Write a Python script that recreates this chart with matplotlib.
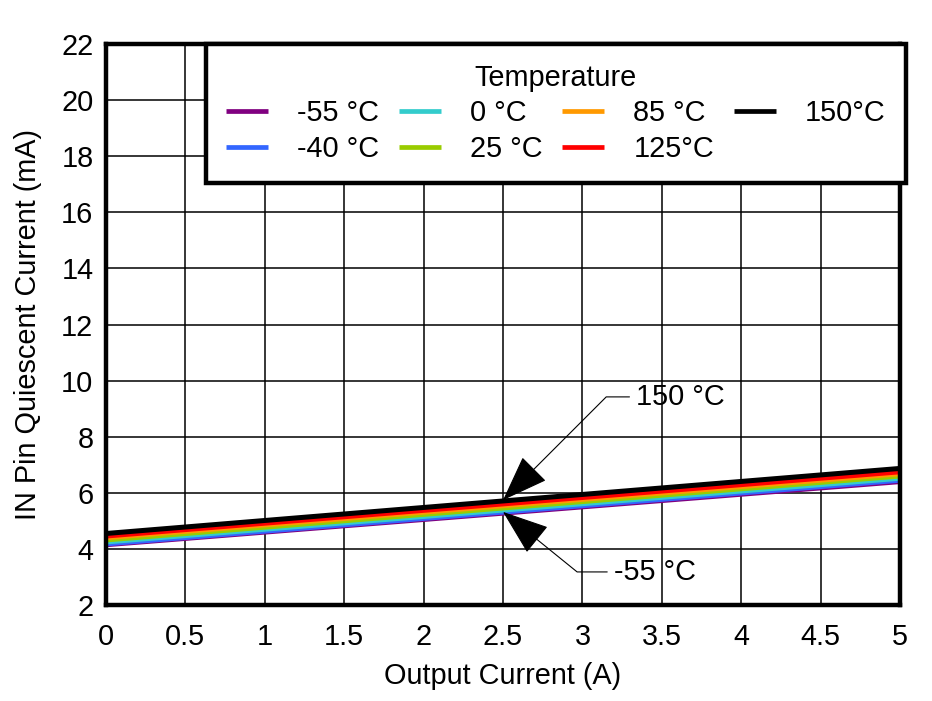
import matplotlib
matplotlib.use("Agg")
import matplotlib.pyplot as plt

# Data
output_current = [0, 5]
temps = ['-55 °C', '-40 °C', '0 °C', '25 °C', '85 °C', '125°C', '150°C']
colors = ['#800080', '#3366FF', '#33CCCC', '#99CC00', '#FF9900', '#FF0000', '#000000']
iq_start = [4.15, 4.18, 4.25, 4.32, 4.40, 4.46, 4.55]
iq_end = [6.40, 6.45, 6.52, 6.60, 6.68, 6.75, 6.87]

plt.rcParams['font.family'] = ['Liberation Sans', 'DejaVu Sans']
FS = 20.8

fig = plt.figure(figsize=(9.32, 7.01), dpi=100)
ax = fig.add_axes([0.1137, 0.1369, 0.852, 0.8003])

lines = []
for name, c, a, b in zip(temps, colors, iq_start, iq_end):
    ln, = ax.plot(output_current, [a, b], color=c, lw=3.6, label=name, solid_capstyle='butt')
    lines.append(ln)

ax.set_xlim(0, 5)
ax.set_ylim(2, 22)
ax.set_xticks([0, 0.5, 1, 1.5, 2, 2.5, 3, 3.5, 4, 4.5, 5])
ax.set_xticklabels(['0', '0.5', '1', '1.5', '2', '2.5', '3', '3.5', '4', '4.5', '5'])
ax.set_yticks(range(2, 23, 2))
ax.tick_params(labelsize=FS, direction='in', length=0)
ax.tick_params(axis='x', pad=13)
ax.tick_params(axis='y', pad=9)
ax.grid(True, color='black', lw=1.1)
for s in ax.spines.values():
    s.set_linewidth(3.2)
    s.set_color('black')

ax.set_xlabel('Output Current (A)', fontsize=FS, labelpad=8)
ax.set_ylabel('IN Pin Quiescent Current (mA)', fontsize=FS, labelpad=14)

leg = ax.legend(handles=lines, title='Temperature', ncol=4, fontsize=FS,
                title_fontsize=FS, loc='upper right', bbox_to_anchor=(1.0075, 1.0),
                borderaxespad=0, frameon=True, fancybox=False, framealpha=1,
                handlelength=1.45, handletextpad=1.0, columnspacing=0.7,
                labelspacing=0.25, borderpad=0.7)
leg.get_frame().set_edgecolor('black')
leg.get_frame().set_linewidth(3.2)
for h in leg.legend_handles:
    h.set_linewidth(3.4)

arrow_kw = dict(arrowstyle='-|>,head_length=1.5,head_width=0.55', mutation_scale=20,
                color='black', lw=0.8, shrinkA=3, shrinkB=0, relpos=(0, 0.5))
ax.annotate('150 °C', xy=(2.5, 5.74), xytext=(3.34, 9.42), fontsize=FS, va='center',
            arrowprops=dict(connectionstyle='angle,angleA=0,angleB=45,rad=0', **arrow_kw))
ax.annotate('-55 °C', xy=(2.5, 5.32), xytext=(3.2, 3.18), fontsize=FS, va='center',
            arrowprops=dict(connectionstyle='angle,angleA=0,angleB=-39,rad=0', **arrow_kw))

fig.savefig('out.png', dpi=100)
